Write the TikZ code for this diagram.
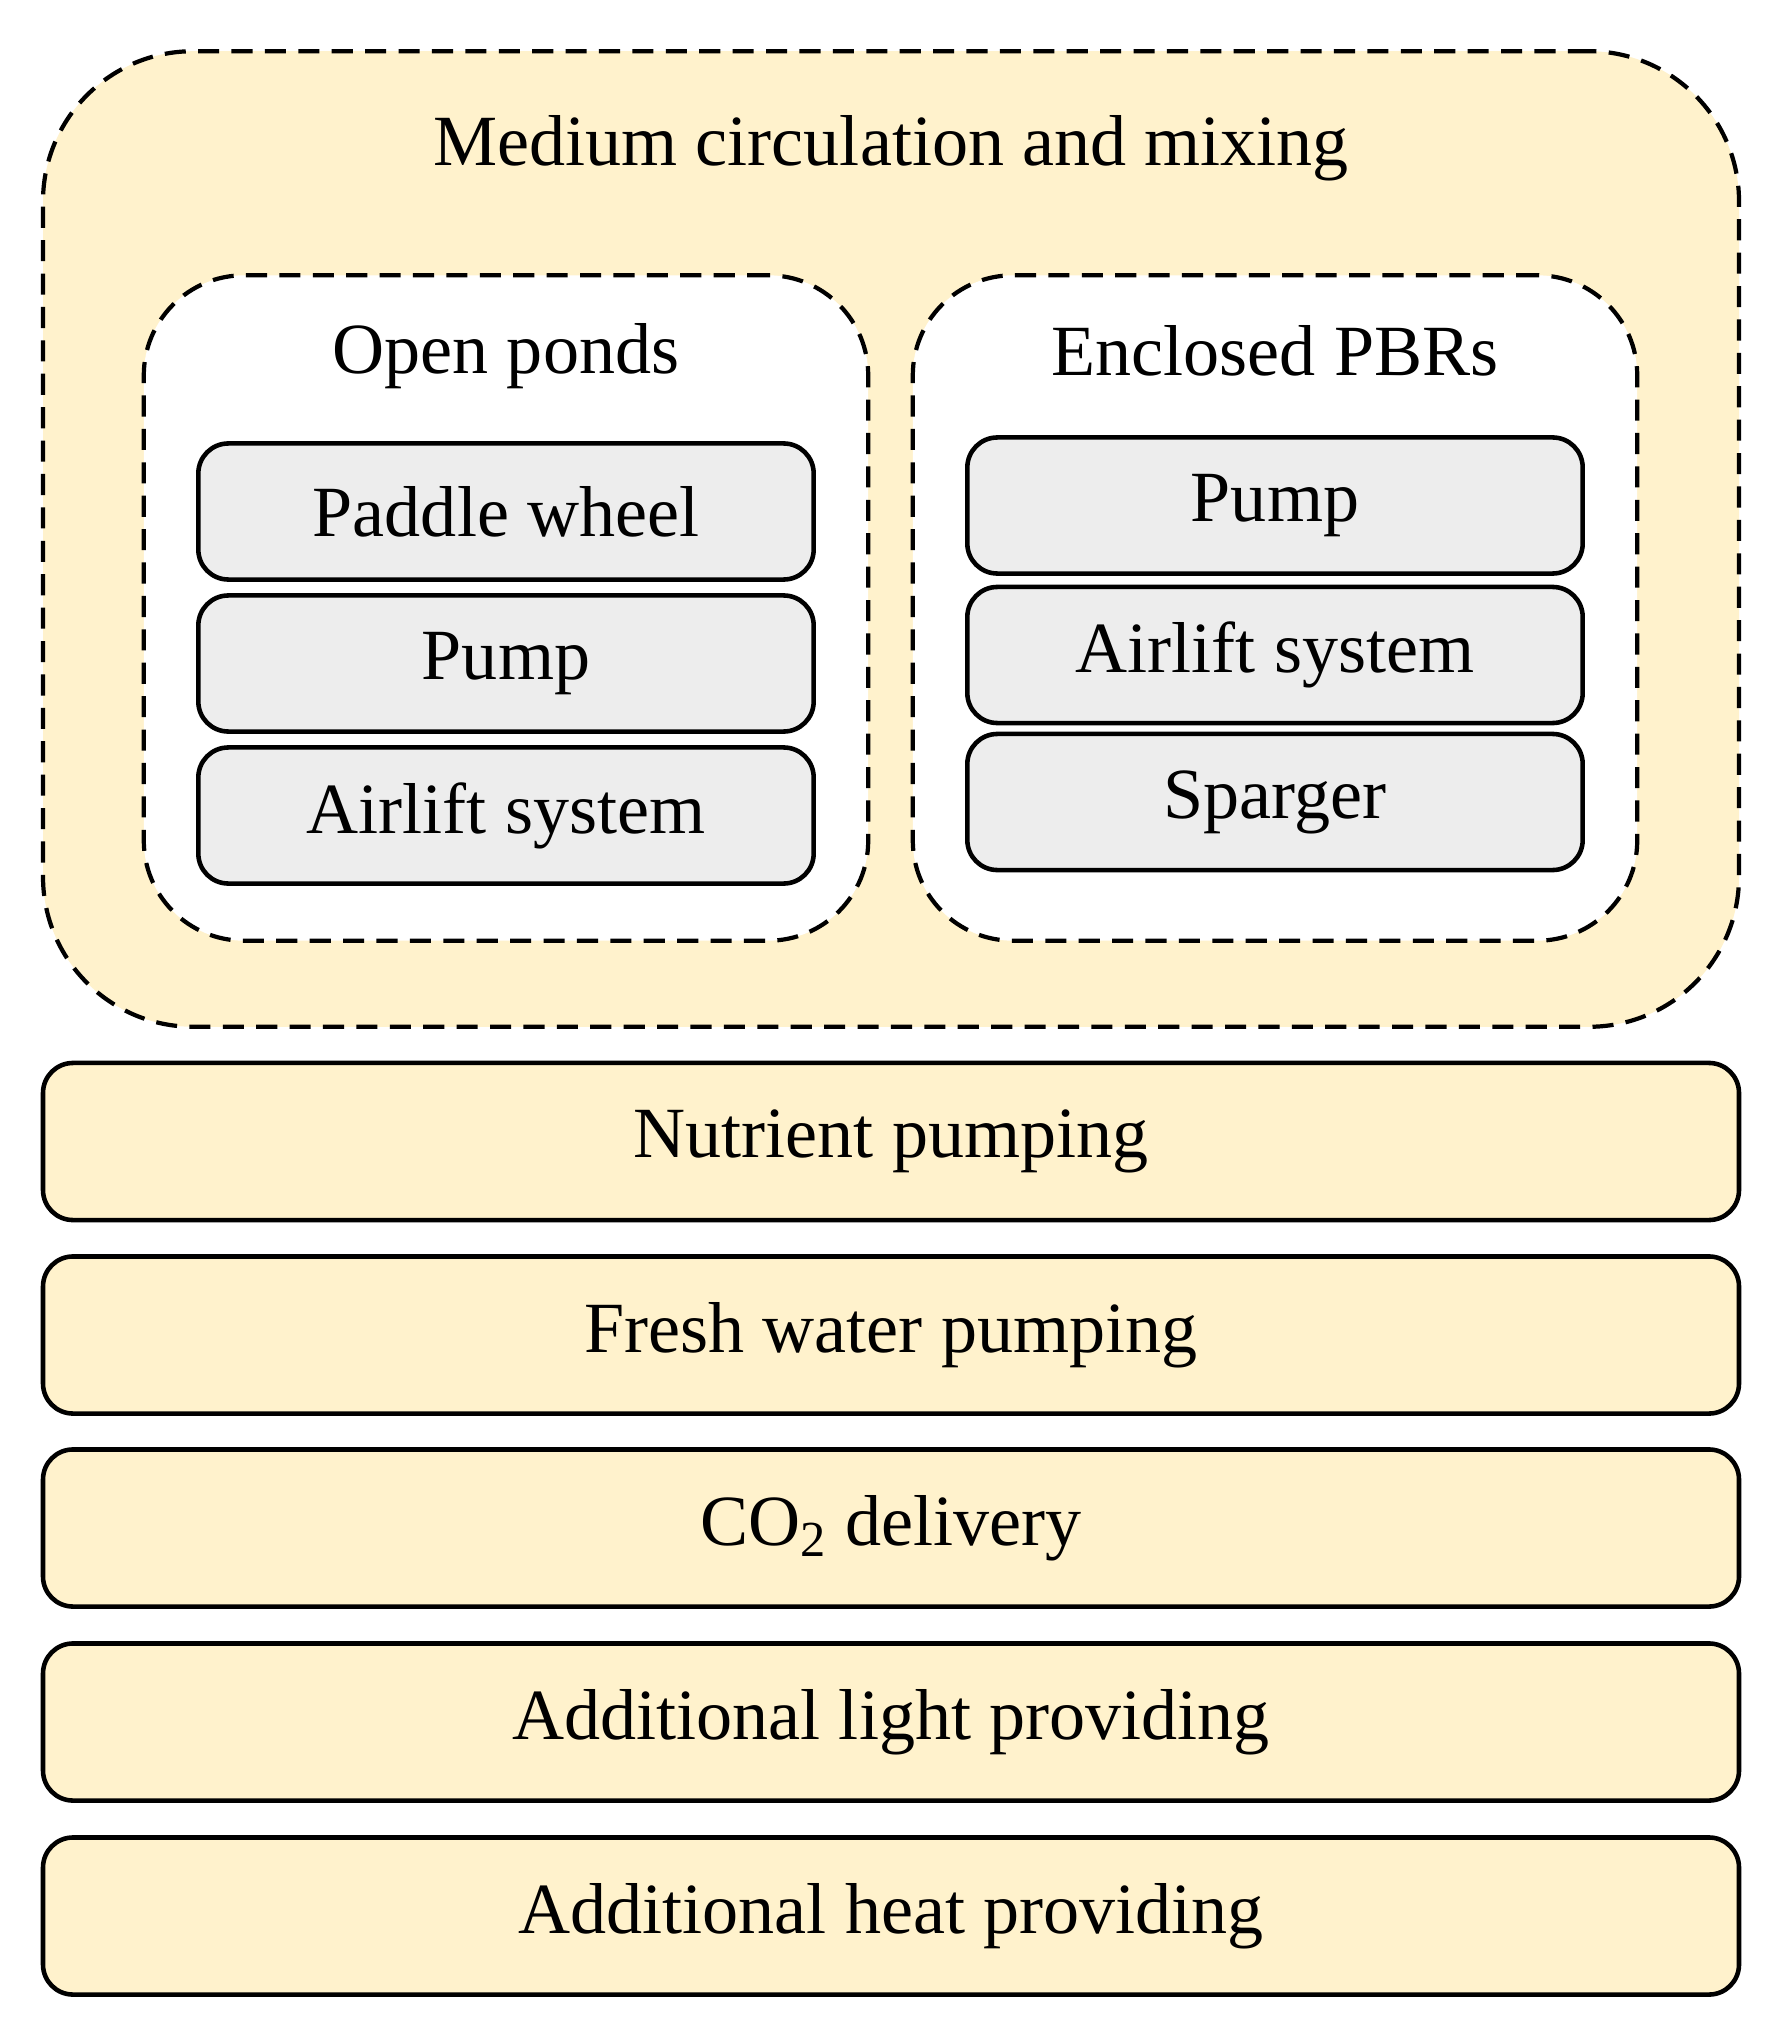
\documentclass[tikz,border=0pt]{standalone}
\usepackage{fontspec}
\setmainfont{Liberation Serif}
\definecolor{paleyellow}{HTML}{FFF2CC}
\definecolor{palegray}{HTML}{EDEDED}
\tikzset{
  group/.style={draw, dash pattern=on 6pt off 3.5pt, line width=1.2pt, rounded corners=1.5cm},
  item/.style={draw, line width=1.3pt, rounded corners=0.3cm, fill=palegray,
    minimum width=6.15cm, minimum height=1.36cm, font=\fontsize{20.5}{24}\selectfont},
  task/.style={draw, line width=1.3pt, rounded corners=0.3cm, fill=paleyellow,
    minimum width=16.95cm, minimum height=1.57cm, font=\fontsize{20.5}{24}\selectfont},
  heading/.style={font=\fontsize{20.5}{24}\selectfont}
}
\begin{document}
\begin{tikzpicture}[x=0.01cm, y=-0.01cm]
\useasboundingbox (0,0) rectangle (1782,2037);
% medium circulation group
\node[group, fill=paleyellow, minimum width=16.95cm, minimum height=9.75cm] (mixing) at (891,539) {};
\node[heading] (mixingtitle) at (891,148) {Medium circulation and mixing};
\node[group, rounded corners=1cm, fill=white, minimum width=7.24cm, minimum height=6.65cm] (ponds) at (506,608) {};
\node[group, rounded corners=1cm, fill=white, minimum width=7.24cm, minimum height=6.65cm] (pbrs) at (1275,608) {};
\node[heading] (pondstitle) at (506,356) {Open ponds};
\node[heading] (pbrstitle) at (1275,351) {Enclosed PBRs};
% open ponds
\node[item] (paddle) at (506,511.5) {Paddle wheel};
\node[item] (pondpump) at (506,663.5) {Pump};
\node[item] (pondairlift) at (506,815.5) {Airlift system};
% enclosed PBRs
\node[item] (pbrpump) at (1275,505.5) {Pump};
\node[item] (pbrairlift) at (1275,655) {Airlift system};
\node[item] (sparger) at (1275,802) {Sparger};
% other tasks
\node[task] (nutrient) at (891,1141.5) {Nutrient pumping};
\node[task] (water) at (891,1335) {Fresh water pumping};
\node[task] (co2) at (891,1528) {CO\textsubscript{2} delivery};
\node[task] (light) at (891,1722) {Additional light providing};
\node[task] (heat) at (891,1916) {Additional heat providing};
\end{tikzpicture}
\end{document}
